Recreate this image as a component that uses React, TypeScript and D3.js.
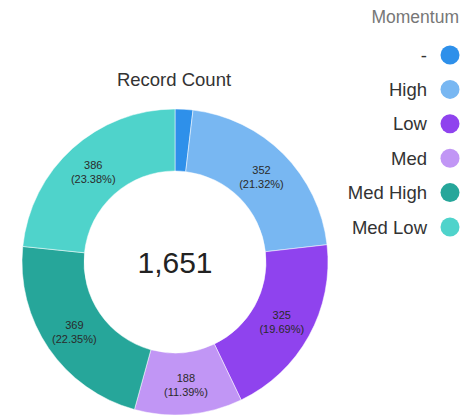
import React from "react";
import * as d3 from "d3";

const categories = ["-", "High", "Low", "Med", "Med High", "Med Low"];
const counts = [31, 352, 325, 188, 369, 386];
const colors = ["#2e90ea", "#78b7f2", "#8f43ee", "#c196f5", "#26a69a", "#4fd3cb"];
const title = "Record Count";
const legendTitle = "Momentum";

export default function App() {
  const W = 466, H = 416;
  const cx = 175, cy = 262, rOuter = 153, rInner = 91;
  const total = d3.sum(counts);
  const pie = d3.pie<number>().sort(null).value((d) => d)(counts);
  const arc = d3.arc<d3.PieArcDatum<number>>().innerRadius(rInner).outerRadius(rOuter);
  const labelArc = d3.arc<d3.PieArcDatum<number>>().innerRadius((rInner + rOuter) / 2).outerRadius((rInner + rOuter) / 2);
  const fmt = d3.format(",");
  const legendY = d3.scalePoint<string>().domain(categories).range([55, 227]);
  const font = "'Liberation Sans', Arial, sans-serif";
  return (
    <svg width={W} height={H} style={{ position: "absolute", left: 0, top: 0, fontFamily: font }}>
      <rect width={W} height={H} fill="#fff" />
      <text x={174} y={86} textAnchor="middle" fontSize={18.5} fill="#333">{title}</text>
      <g transform={`translate(${cx},${cy})`}>
        {pie.map((p, i) => (
          <path key={i} d={arc(p) || ""} fill={colors[i]} stroke="#fff" strokeWidth={0.5} />
        ))}
        {pie.map((p, i) => {
          if (p.data < 100) return null;
          const [x, y] = labelArc.centroid(p);
          return (
            <text key={"l" + i} x={x} y={y} textAnchor="middle" fontSize={11} fill="#2a2a2a">
              <tspan x={x} dy={-2}>{fmt(p.data)}</tspan>
              <tspan x={x} dy={14}>({((p.data / total) * 100).toFixed(2)}%)</tspan>
            </text>
          );
        })}
        <text x={0} y={11} textAnchor="middle" fontSize={30} fill="#222">{fmt(total)}</text>
      </g>
      <text x={459} y={23} textAnchor="end" fontSize={17.5} fill="#777">{legendTitle}</text>
      {categories.map((c, i) => (
        <g key={c} transform={`translate(0,${legendY(c)})`}>
          <text x={427} y={6.5} textAnchor="end" fontSize={18.5} fill="#333">{c}</text>
          <circle cx={450} cy={0} r={9.5} fill={colors[i]} />
        </g>
      ))}
    </svg>
  );
}
